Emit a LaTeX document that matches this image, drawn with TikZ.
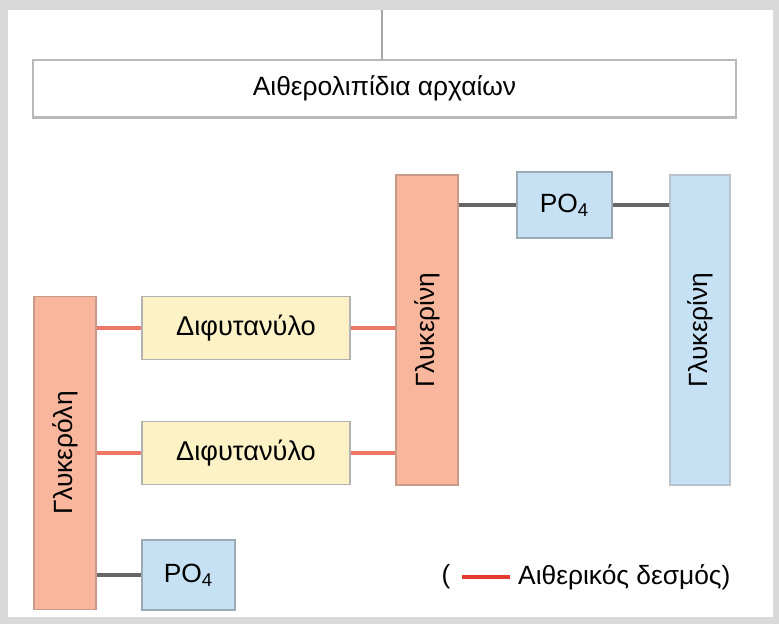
\documentclass[tikz,border=0pt]{standalone}
\usepackage{fontspec}
\setmainfont{Liberation Sans}

\definecolor{frame}{HTML}{D9D9D9}
\definecolor{lipidred}{HTML}{F8B69C}
\definecolor{lipidedge}{HTML}{C79A8A}
\definecolor{chainfill}{HTML}{FDF2C6}
\definecolor{phosfill}{HTML}{C6E1F3}
\definecolor{phosedge}{HTML}{9AAAB5}
\definecolor{bondred}{HTML}{EE7766}
\definecolor{legred}{HTML}{E23A2E}

\begin{document}
\begin{tikzpicture}[
    x=0.02cm, y=-0.02cm,
    headbox/.style={rectangle, draw=gray!55, line width=0.9pt, fill=white, minimum width=14.06cm, minimum height=1.14cm, font=\fontsize{15}{17}\selectfont},
    glybar/.style={rectangle, draw=lipidedge, line width=1pt, fill=lipidred, minimum width=1.24cm, inner sep=0pt},
    phosbar/.style={rectangle, draw=phosedge!70, line width=1pt, fill=phosfill, minimum width=1.2cm, inner sep=0pt},
    chainbox/.style={rectangle, draw=gray!60, line width=1pt, fill=chainfill, minimum width=4.16cm, minimum height=1.26cm, font=\fontsize{15.5}{17}\selectfont},
    phosbox/.style={rectangle, draw=phosedge, line width=1pt, fill=phosfill, minimum width=1.9cm, minimum height=1.32cm, font=\fontsize{15}{17}\selectfont},
    etherbond/.style={bondred, line width=2pt},
    phosbond/.style={black!60, line width=2.2pt},
    barlabel/.style={rotate=90, font=\fontsize{15}{17}\selectfont},
]
% frame and page
\fill[frame] (0,0) rectangle (779,624);
\fill[white] (8,10) rectangle (773,617);

% lipid header with its stem
\node[headbox] (lipids) at (384.5,88.5) {Αιθερολιπίδια αρχαίων};
\draw[gray!55, line width=1.8pt] (lipids.south west) -- (lipids.south east);
\coordinate (stem) at (382,10);
\draw[gray!70, line width=1pt] (stem) -- (stem |- lipids.north);

% glycerol and phosphate bars
\node[glybar, minimum height=6.26cm] (glyA) at (65,453) {};
\node[barlabel] at (glyA) {Γλυκερόλη};
\node[glybar, minimum height=6.2cm] (glyB) at (427,330) {};
\node[barlabel] at (glyB) {Γλυκερίνη};
\node[phosbar, minimum height=6.2cm] (glyC) at (700,330) {};
\node[barlabel] at (glyC) {Γλυκερίνη};

% diphytanyl chains
\node[chainbox] (chainA) at (246,328) {Διφυτανύλο};
\node[chainbox] (chainB) at (246,453) {Διφυτανύλο};

% phosphate groups
\node[phosbox] (phosA) at (564.5,205) {PO\textsubscript{4}};
\node[phosbox, minimum width=1.86cm, minimum height=1.4cm] (phosB) at (188.5,575) {PO\textsubscript{4}};

% ether bonds
\draw[etherbond] (chainA.west) -- (chainA.west -| glyA.east);
\draw[etherbond] (chainA.east) -- (chainA.east -| glyB.west);
\draw[etherbond] (chainB.west) -- (chainB.west -| glyA.east);
\draw[etherbond] (chainB.east) -- (chainB.east -| glyB.west);

% phosphate bonds
\draw[phosbond] (phosA.west) -- (phosA.west -| glyB.east);
\draw[phosbond] (phosA.east) -- (phosA.east -| glyC.west);
\draw[phosbond] (phosB.west) -- (phosB.west -| glyA.east);

% legend
\node[font=\fontsize{15}{17}\selectfont] (legopen) at (446,577) {(};
\node[anchor=west, font=\fontsize{15}{17}\selectfont] (legtext) at (512,577) {Αιθερικός δεσμός)};
\draw[legred, line width=2.2pt] ([xshift=3pt]legopen.east) -- ([xshift=-1pt]legtext.west);
\end{tikzpicture}
\end{document}
